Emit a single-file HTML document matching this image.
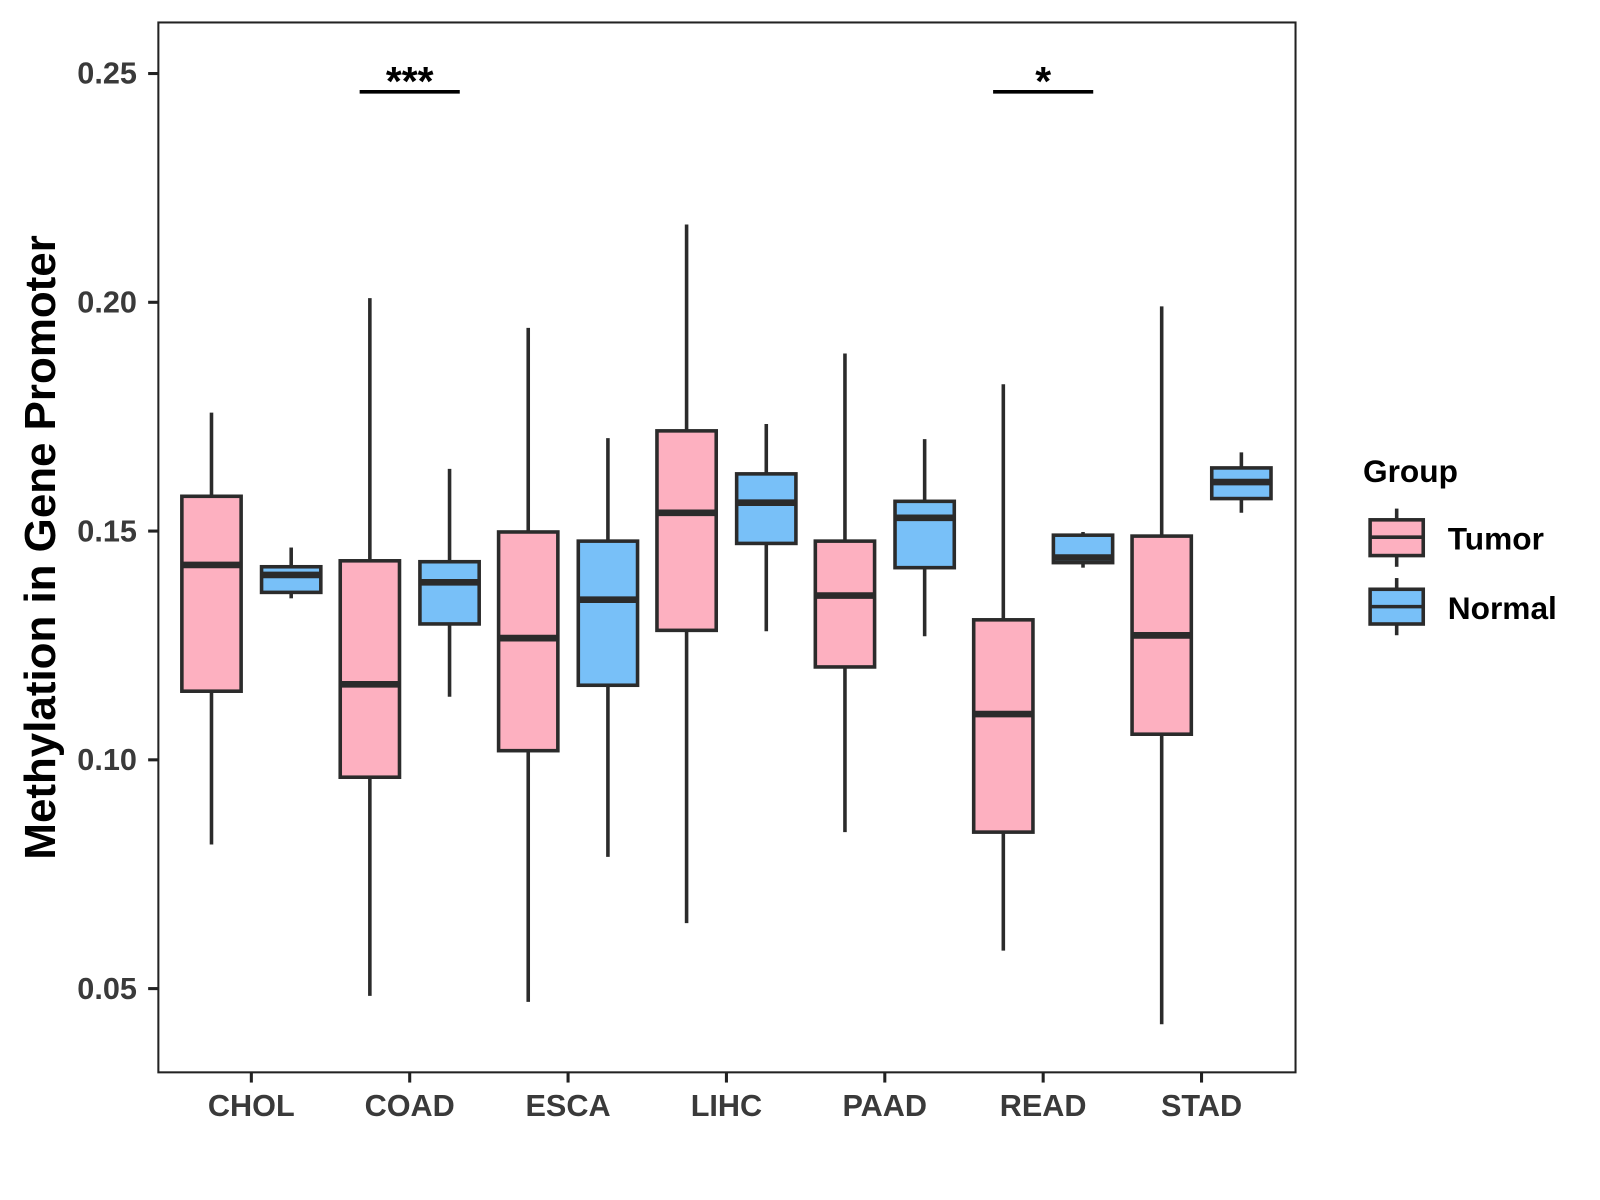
<!DOCTYPE html>
<html><head><meta charset="utf-8"><style>
html,body{margin:0;padding:0;background:#fff;}
svg{display:block;font-family:"Liberation Sans",Arial,sans-serif;font-weight:bold;}
</style></head><body>
<svg id="chart" width="1600" height="1200" viewBox="0 0 1566 1175" preserveAspectRatio="none">
<rect x="155" y="22" width="1113" height="1028" fill="#fff" stroke="#222" stroke-width="2"/>
<g id="marks"></g>
<g id="axes"></g>
<text transform="translate(54,536) rotate(-90)" text-anchor="middle" font-size="43" fill="#000">Methylation in Gene Promoter</text>
<g>
<text x="1334" y="472" font-size="31" fill="#000">Group</text>
<g>
<line x1="1367" y1="498" x2="1367" y2="555" stroke="#2b2b2b" stroke-width="3.5"/>
<rect x="1341" y="509" width="52" height="35" fill="#FDB0C0" stroke="#2b2b2b" stroke-width="3.5"/>
<line x1="1341" y1="526" x2="1393" y2="526" stroke="#2b2b2b" stroke-width="3.5"/>
<text x="1417" y="538" font-size="31" fill="#000">Tumor</text>
</g>
<g>
<line x1="1367" y1="566" x2="1367" y2="622" stroke="#2b2b2b" stroke-width="3.5"/>
<rect x="1341" y="577" width="52" height="34" fill="#78C0F8" stroke="#2b2b2b" stroke-width="3.5"/>
<line x1="1341" y1="594" x2="1393" y2="594" stroke="#2b2b2b" stroke-width="3.5"/>
<text x="1417" y="606" font-size="31" fill="#000">Normal</text>
</g>
</g>
</svg>
<script>
const categories=["CHOL","COAD","ESCA","LIHC","PAAD","READ","STAD"];
// [low, q1, median, q3, high]
const tumorStats=[
[0.0815,0.115,0.1426,0.1576,0.1759],
[0.0484,0.0962,0.1165,0.1435,0.2009],
[0.0471,0.102,0.1266,0.1498,0.1944],
[0.0643,0.1283,0.154,0.1719,0.217],
[0.0842,0.1203,0.1359,0.1478,0.1888],
[0.0583,0.0842,0.110,0.1306,0.1821],
[0.0422,0.1056,0.1272,0.1489,0.1991]];
const normalStats=[
[0.1353,0.1366,0.1404,0.1422,0.1464],
[0.1138,0.1297,0.1388,0.1433,0.1636],
[0.0788,0.1163,0.1350,0.1478,0.1703],
[0.1281,0.1473,0.1562,0.1625,0.1734],
[0.127,0.142,0.1529,0.1565,0.1701],
[0.142,0.1431,0.1442,0.1491,0.1498],
[0.154,0.1571,0.1607,0.1638,0.1672]];
const yTicks=[0.05,0.10,0.15,0.20,0.25];
const yTickLabels=["0.05","0.10","0.15","0.20","0.25"];
const sigCategories=["COAD","READ"];
const sigLabels=["***","*"];
const sigLevel=0.246;

const NS="http://www.w3.org/2000/svg";
function y(v){return 72+(0.25-v)*4480;}
function x(i){return 246+i*155;}
function mk(tag,attrs,parent){const e=document.createElementNS(NS,tag);for(const k in attrs)e.setAttribute(k,attrs[k]);parent.appendChild(e);return e;}
const marks=document.getElementById('marks'),axes=document.getElementById('axes');
const S="#2b2b2b";
function box(cx,s,fill,name){
  const g=mk('g',{},marks);
  
  
  mk('line',{x1:cx,x2:cx,y1:y(s[4]),y2:y(s[0]),stroke:S,'stroke-width':3.5},g);
  mk('rect',{x:cx-29,y:y(s[3]),width:58,height:y(s[1])-y(s[3]),fill:fill,stroke:S,'stroke-width':3.5},g);
  mk('line',{x1:cx-29,x2:cx+29,y1:y(s[2]),y2:y(s[2]),stroke:S,'stroke-width':6.5},g);
}
categories.forEach((c,i)=>{
  box(x(i)-39,tumorStats[i],"#FDB0C0",'box-tumor-'+c.toLowerCase());
  box(x(i)+39,normalStats[i],"#78C0F8",'box-normal-'+c.toLowerCase());
  mk('line',{x1:x(i),x2:x(i),y1:1050,y2:1060,stroke:'#222','stroke-width':3},axes);
  const t=mk('text',{x:x(i),y:1093,'text-anchor':'middle','font-size':30,fill:'#3a3a3a'},axes);
  t.textContent=c;
  
  
});
yTicks.forEach((v,i)=>{
  mk('line',{x1:145,x2:155,y1:y(v),y2:y(v),stroke:'#222','stroke-width':3},axes);
  const t=mk('text',{x:134,y:y(v)+10,'text-anchor':'end','font-size':30,fill:'#3a3a3a'},axes);
  t.textContent=yTickLabels[i];
  
  
});
sigCategories.forEach((c,k)=>{
  const i=categories.indexOf(c);
  const l=mk('line',{x1:x(i)-49,x2:x(i)+49,y1:y(sigLevel),y2:y(sigLevel),stroke:'#000','stroke-width':3.5},marks);
  
  
  const t=mk('text',{x:x(i),y:y(sigLevel)+3,'text-anchor':'middle','font-size':40,fill:'#000'},marks);
  t.textContent=sigLabels[k];
  
  
});
</script>
</body></html>
